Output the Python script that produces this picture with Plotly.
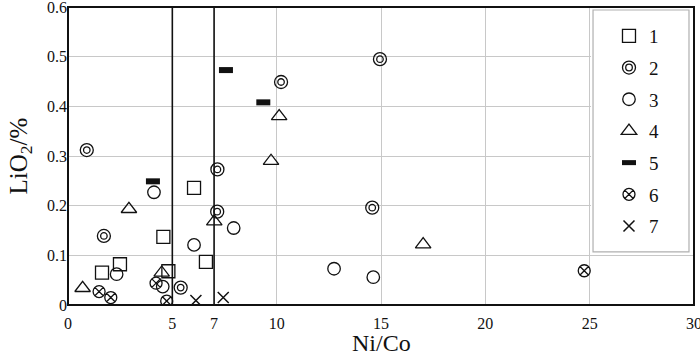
import plotly.graph_objects as go

# ---- data ----
s1_x = [6.04, 4.57, 2.49, 6.61, 1.63, 4.81]
s1_y = [0.236, 0.137, 0.082, 0.087, 0.065, 0.068]

s2_x = [0.90, 1.72, 7.16, 7.15, 5.40, 10.21, 14.95, 14.58]
s2_y = [0.312, 0.139, 0.273, 0.188, 0.035, 0.449, 0.495, 0.196]

s3_x = [4.12, 7.94, 6.04, 2.33, 4.54, 12.75, 14.63]
s3_y = [0.227, 0.155, 0.121, 0.062, 0.037, 0.073, 0.056]

s4_x = [2.92, 7.01, 4.49, 0.70, 10.12, 9.73, 17.02]
s4_y = [0.193, 0.168, 0.065, 0.034, 0.380, 0.290, 0.122]

s5_x = [4.07, 7.57, 9.36]
s5_y = [0.249, 0.473, 0.408]

s6_x = [1.49, 2.05, 4.22, 4.73, 24.74]
s6_y = [0.027, 0.015, 0.044, 0.008, 0.069]

s7_x = [6.13, 7.44]
s7_y = [0.009, 0.015]

series_names = ["1", "2", "3", "4", "5", "6", "7"]
x_tickvals = [0, 5, 7, 10, 15, 20, 25, 30]
y_tickvals = [0, 0.1, 0.2, 0.3, 0.4, 0.5, 0.6]
y_ticktext = ["0", "0.1", "0.2", "0.3", "0.4", "0.5", "0.6"]
threshold_lines = [5, 7]
x_title = "Ni/Co"
y_title = "LiO<sub>2</sub>/%"

FONT = "Liberation Serif, Times New Roman, serif"
INK = "#111111"

fig = go.Figure()

def add(xs, ys, name, symbol, size, lw, group, showlegend=True):
    fig.add_trace(go.Scatter(
        x=xs, y=ys, mode="markers", name=name, legendgroup=group,
        showlegend=showlegend,
        marker=dict(symbol=symbol, size=size, color=INK,
                    line=dict(color=INK, width=lw)),
    ))

add(s1_x, s1_y, series_names[0], "square-open", 13, 1.3, "g1")
add(s2_x, s2_y, series_names[1], "circle-open", 13, 1.3, "g2")
add(s2_x, s2_y, series_names[1], "circle-open", 6.5, 1.3, "g2", showlegend=False)
add(s3_x, s3_y, series_names[2], "circle-open", 12.5, 1.3, "g3")
add(s4_x, s4_y, series_names[3], "triangle-up-open", 13.5, 1.3, "g4")
add(s5_x, s5_y, series_names[4], "line-ew", 10, 6, "g5")
add(s6_x, s6_y, series_names[5], "circle-x-open", 12, 1.3, "g6")
add(s7_x, s7_y, series_names[6], "x-thin-open", 11, 1.5, "g7")

shapes = []
for xv in threshold_lines:
    shapes.append(dict(type="line", xref="x", yref="paper", x0=xv, x1=xv,
                       y0=0, y1=1, layer="above",
                       line=dict(color=INK, width=1.6)))
# legend background and box
shapes.append(dict(type="rect", xref="paper", yref="paper",
                   x0=0.8355, x1=1, y0=0.172, y1=1, layer="above",
                   fillcolor="white", line=dict(width=0)))
shapes.append(dict(type="rect", xref="paper", yref="paper",
                   x0=0.8387, x1=0.992, y0=0.178, y1=0.990, layer="above",
                   fillcolor="rgba(0,0,0,0)", line=dict(color="#b0b0b0", width=1.2)))
# frame
shapes.append(dict(type="rect", xref="paper", yref="paper",
                   x0=0, x1=1, y0=0, y1=1, layer="above",
                   fillcolor="rgba(0,0,0,0)", line=dict(color=INK, width=2)))
# inner ring of the legend icon for series 2
shapes.append(dict(type="circle", xref="paper", yref="paper",
                   xsizemode="pixel", ysizemode="pixel",
                   xanchor=0.8962, yanchor=0.797,
                   x0=-3.3, x1=3.3, y0=-3.3, y1=3.3, layer="above",
                   line=dict(color=INK, width=1.3)))

fig.update_layout(
    width=700, height=356,
    margin=dict(l=68, r=6, t=7, b=51),
    paper_bgcolor="white", plot_bgcolor="white",
    font=dict(family=FONT, color=INK, size=16),
    showlegend=True,
    legend=dict(x=0.8642, y=0.9665, xanchor="left", yanchor="top",
                bgcolor="rgba(0,0,0,0)", borderwidth=0,
                font=dict(family=FONT, size=19, color=INK),
                tracegroupgap=4),
    shapes=shapes,
    annotations=[dict(text=x_title, xref="paper", yref="paper",
                      x=0.5, y=-0.1275, xanchor="center", yanchor="middle",
                      showarrow=False, font=dict(family=FONT, size=24, color=INK))],
    xaxis=dict(range=[0, 30], tickvals=x_tickvals,
               ticks="outside", ticklen=4, tickcolor="rgba(0,0,0,0)",
               showgrid=True, gridcolor="#c8c8c8", gridwidth=1,
               zeroline=False, showline=False, automargin=False,
               ticklabeloverflow="allow",
               tickfont=dict(family=FONT, size=16)),
    yaxis=dict(range=[0, 0.6], tickvals=y_tickvals, ticktext=y_ticktext,
               ticks="", showgrid=True, gridcolor="#c8c8c8", gridwidth=1,
               zeroline=False, showline=False, automargin=False,
               ticklabeloverflow="allow",
               tickfont=dict(family=FONT, size=16),
               title=dict(text=y_title, font=dict(family=FONT, size=25),
                          standoff=12)),
)

fig.write_html("out.html", config={"displayModeBar": False},
               post_script="document.body.style.margin='0';document.body.style.padding='0';")
